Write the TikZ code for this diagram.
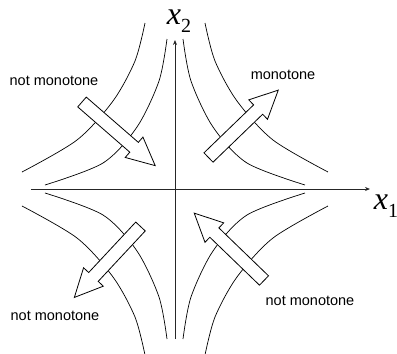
\documentclass[tikz,border=0pt]{standalone}
\usepackage{fontspec}
\setmainfont{Liberation Sans}
\newfontfamily\tms{Liberation Serif}
\usetikzlibrary{arrows.meta}
\tikzset{
  curve/.style={line width=0.7pt},
  axis/.style={line width=0.8pt, draw=black!85, -{Stealth[length=5pt,width=4pt]}},
  arrowbox/.style={draw=black, fill=white, line width=0.8pt, line join=miter},
  lbl/.style={font=\fontsize{14.5}{16}\selectfont, inner sep=0pt},
  axlbl/.style={inner sep=0pt},
  blockarrow/.pic={\draw[arrowbox] (0,-6.5) -- (69,-6.5) -- (69,-13.5) -- (97,0) -- (69,13.5) -- (69,6.5) -- (0,6.5) -- cycle;}
}
\begin{document}
\begin{tikzpicture}[x=1pt,y=1pt]
\useasboundingbox (-175,-165) rectangle (222,189);
% axes
\coordinate (xs) at (-144,0);
\coordinate (xe) at (195,0);
\coordinate (ys) at (0,-150);
\coordinate (ye) at (0,149);
\draw[axis] (xs) -- (xe);
\draw[axis] (ys) -- (ye);
\node[axlbl] (x1) at (211,-17) {{\fontsize{32}{32}\selectfont\tms\itshape x}\raisebox{-8pt}{\fontsize{20}{20}\selectfont\tms 1}};
\node[axlbl] (x2) at (4,168) {{\fontsize{32}{32}\selectfont\tms\itshape x}\raisebox{-8pt}{\fontsize{20}{20}\selectfont\tms 2}};
% curves
\foreach \sx/\sy in {1/1,-1/1,-1/-1,1/-1}{
  \begin{scope}[xscale=\sx, yscale=\sy]
    \draw[curve] plot[smooth] coordinates {(8,150) (16,108) (38,62) (72,26) (130,4)};
    \draw[curve] plot[smooth] coordinates {(30,166) (40,128) (62,88) (98,49) (153,17)};
  \end{scope}
}
% block arrows
\pic[rotate=-41] (aul) at (-93,87) {blockarrow};
\pic[rotate=44] (aur) at (33.5,31.5) {blockarrow};
\pic[rotate=-133] (all) at (-34.5,-37.5) {blockarrow};
\pic[rotate=136] (alr) at (89,-91.5) {blockarrow};
% labels
\node[lbl] (tul) at (-121,108) {not monotone};
\node[lbl] (tur) at (108,114) {monotone};
\node[lbl] (tll) at (-120,-127) {not monotone};
\node[lbl] (tlr) at (135,-112) {not monotone};
\end{tikzpicture}
\end{document}
